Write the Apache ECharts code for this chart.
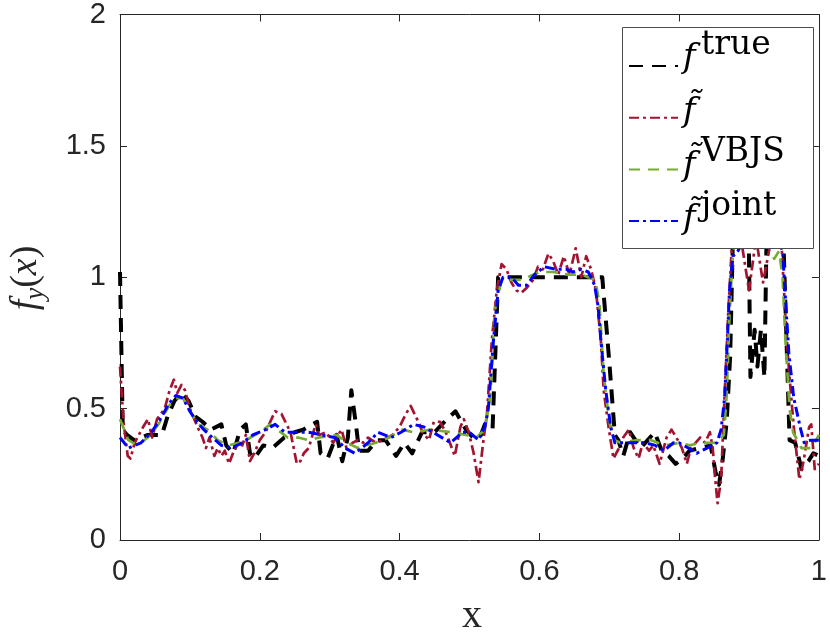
<!DOCTYPE html>
<html>
<head>
<meta charset="utf-8">
<script src="https://cdn.jsdelivr.net/npm/echarts@6/dist/echarts.min.js"></script>
<style>html,body{margin:0;padding:0;background:#fff;}#c{width:830px;height:636px;}</style>
</head>
<body>
<div id="c"></div>
<script>
// ---- data ----
const xTrue = [0,0.004,0.01,0.02,0.03,0.04,0.05,0.06,0.068,0.078,0.088,0.098,0.108,0.118,0.13,0.145,0.152,0.162,0.172,0.18,0.186,0.192,0.205,0.218,0.235,0.25,0.262,0.275,0.282,0.287,0.297,0.31,0.318,0.326,0.331,0.338,0.342,0.355,0.368,0.38,0.395,0.407,0.418,0.432,0.45,0.468,0.48,0.495,0.505,0.515,0.522,0.533,0.541,0.69,0.70,0.708,0.713,0.72,0.73,0.745,0.755,0.765,0.775,0.785,0.795,0.805,0.815,0.83,0.845,0.852,0.857,0.862,0.868,0.873,0.88,0.898,0.902,0.908,0.912,0.917,0.922,0.927,0.945,0.958,0.966,0.975,0.985,0.992,1.0];
const yTrue = [1.02,0.42,0.40,0.38,0.39,0.40,0.40,0.40,0.47,0.53,0.56,0.53,0.47,0.45,0.42,0.44,0.36,0.33,0.42,0.44,0.33,0.31,0.36,0.35,0.39,0.41,0.42,0.44,0.45,0.33,0.31,0.40,0.30,0.39,0.57,0.43,0.34,0.34,0.38,0.38,0.32,0.37,0.33,0.41,0.41,0.46,0.49,0.42,0.39,0.39,0.44,0.42,1.00,1.00,0.68,0.40,0.38,0.32,0.41,0.35,0.38,0.41,0.34,0.32,0.29,0.31,0.34,0.35,0.36,0.26,0.21,0.30,0.45,0.70,1.50,1.50,0.62,0.80,0.66,0.80,0.62,1.50,1.50,0.38,0.37,0.27,0.30,0.33,0.32];

const xTilde = [0,0.005,0.011,0.015,0.021,0.033,0.040,0.046,0.053,0.064,0.071,0.077,0.082,0.088,0.093,0.100,0.111,0.118,0.123,0.128,0.135,0.140,0.145,0.150,0.156,0.163,0.170,0.175,0.180,0.186,0.192,0.200,0.208,0.215,0.222,0.231,0.244,0.253,0.258,0.263,0.270,0.280,0.285,0.295,0.305,0.317,0.324,0.333,0.340,0.348,0.355,0.366,0.376,0.390,0.400,0.409,0.416,0.425,0.433,0.442,0.449,0.458,0.466,0.472,0.479,0.487,0.492,0.499,0.506,0.513,0.520,0.525,0.532,0.539,0.546,0.553,0.560,0.567,0.574,0.582,0.591,0.598,0.605,0.613,0.620,0.627,0.635,0.643,0.652,0.660,0.667,0.674,0.681,0.688,0.692,0.699,0.706,0.714,0.720,0.728,0.735,0.742,0.748,0.757,0.763,0.772,0.782,0.789,0.796,0.804,0.811,0.817,0.830,0.837,0.844,0.848,0.851,0.855,0.860,0.865,0.870,0.875,0.882,0.890,0.900,0.910,0.920,0.930,0.940,0.947,0.952,0.957,0.964,0.972,0.978,0.986,0.989,0.994,1.0];
const yTilde = [0.66,0.45,0.32,0.31,0.37,0.43,0.46,0.39,0.46,0.50,0.57,0.61,0.56,0.59,0.57,0.50,0.43,0.39,0.35,0.39,0.32,0.35,0.32,0.34,0.29,0.34,0.37,0.36,0.40,0.30,0.33,0.38,0.41,0.45,0.49,0.48,0.41,0.29,0.30,0.33,0.35,0.44,0.40,0.41,0.37,0.42,0.35,0.37,0.38,0.37,0.39,0.37,0.38,0.40,0.43,0.48,0.51,0.46,0.41,0.38,0.45,0.45,0.41,0.37,0.32,0.43,0.46,0.41,0.33,0.22,0.38,0.48,0.76,0.95,1.05,1.03,0.98,0.95,0.94,0.96,0.99,1.04,1.03,1.09,1.06,1.01,1.08,1.01,1.11,1.00,1.08,1.03,0.95,0.76,0.57,0.43,0.31,0.35,0.39,0.42,0.35,0.31,0.37,0.34,0.36,0.29,0.39,0.42,0.39,0.35,0.29,0.35,0.39,0.37,0.41,0.35,0.25,0.14,0.23,0.55,0.85,1.10,1.15,1.12,0.95,1.15,0.98,1.12,1.15,1.10,0.85,0.65,0.43,0.23,0.30,0.43,0.44,0.27,0.29];

const xVbjs = [0,0.012,0.025,0.040,0.055,0.070,0.080,0.090,0.100,0.112,0.125,0.140,0.155,0.170,0.180,0.200,0.215,0.240,0.255,0.270,0.285,0.310,0.325,0.340,0.366,0.385,0.404,0.420,0.445,0.475,0.495,0.510,0.522,0.530,0.536,0.546,0.560,0.575,0.600,0.620,0.640,0.660,0.680,0.686,0.692,0.700,0.708,0.716,0.740,0.760,0.780,0.800,0.815,0.830,0.854,0.864,0.868,0.872,0.877,0.885,0.930,0.936,0.943,0.948,0.952,0.958,0.963,0.975,0.990,1.0];
const yVbjs = [0.46,0.38,0.36,0.39,0.44,0.51,0.54,0.54,0.49,0.44,0.42,0.38,0.36,0.37,0.38,0.41,0.44,0.39,0.39,0.38,0.39,0.40,0.37,0.35,0.37,0.39,0.42,0.41,0.42,0.41,0.40,0.39,0.42,0.55,0.87,0.99,0.99,0.99,1.02,1.02,1.01,1.01,0.99,0.90,0.63,0.45,0.38,0.37,0.38,0.38,0.36,0.37,0.36,0.37,0.37,0.40,0.55,0.85,1.10,1.15,1.12,1.07,1.10,1.00,0.76,0.50,0.41,0.35,0.35,0.40];

const xJoint = [0,0.012,0.030,0.045,0.060,0.070,0.080,0.090,0.100,0.110,0.120,0.132,0.145,0.160,0.175,0.190,0.208,0.222,0.236,0.255,0.270,0.288,0.307,0.322,0.336,0.355,0.369,0.388,0.402,0.420,0.435,0.454,0.473,0.490,0.500,0.513,0.522,0.527,0.534,0.541,0.548,0.560,0.570,0.582,0.593,0.607,0.624,0.638,0.648,0.660,0.670,0.679,0.684,0.688,0.695,0.702,0.708,0.723,0.738,0.752,0.766,0.778,0.792,0.800,0.813,0.825,0.840,0.854,0.860,0.865,0.869,0.872,0.877,0.884,0.895,0.910,0.925,0.940,0.948,0.953,0.957,0.964,0.974,0.979,0.988,1.0];
const yJoint = [0.39,0.35,0.37,0.41,0.47,0.52,0.55,0.54,0.49,0.45,0.42,0.39,0.36,0.35,0.37,0.40,0.42,0.44,0.41,0.41,0.41,0.40,0.39,0.35,0.33,0.37,0.41,0.39,0.41,0.44,0.43,0.40,0.37,0.41,0.41,0.38,0.43,0.50,0.75,0.95,1.00,1.00,0.97,0.97,1.01,1.04,1.03,1.03,1.02,1.03,1.02,0.97,0.89,0.76,0.57,0.43,0.37,0.37,0.37,0.37,0.36,0.34,0.37,0.37,0.35,0.33,0.35,0.37,0.42,0.54,0.76,0.95,1.08,1.10,1.15,1.20,1.20,1.15,1.10,0.88,0.71,0.54,0.42,0.37,0.38,0.38];

const xTicks = [0, 0.2, 0.4, 0.6, 0.8, 1];
const yTicks = [0, 0.5, 1, 1.5, 2];
const xTickLabels = ['0', '0.2', '0.4', '0.6', '0.8', '1'];
const yTickLabels = ['0', '0.5', '1', '1.5', '2'];
const seriesNames = ['true', 'tilde', 'vbjs', 'joint'];
const legendBase = ['f', 'f\u0303', 'f\u0303', 'f\u0303'];
const legendSup = ['true', '', 'VBJS', 'joint'];

// ---- chart ----
const zip = (xs, ys) => xs.map((x, i) => [x, ys[i]]);
const axisColor = '#262626';
const chart = echarts.init(document.getElementById('c'), null, {renderer: 'canvas'});

function lbl(list, ticks) {
  return function (v) {
    for (let i = 0; i < ticks.length; i++) if (Math.abs(ticks[i] - v) < 1e-9) return list[i];
    return '';
  };
}

const baseAxisX = {
  type: 'value', min: 0, max: 1, interval: 0.2,
  axisLine: {show: true, onZero: false, lineStyle: {color: axisColor, width: 1}},
  axisTick: {show: true, inside: true, length: 7, lineStyle: {color: axisColor, width: 1}},
  splitLine: {show: false}
};
const baseAxisY = {
  type: 'value', min: 0, max: 2, interval: 0.5,
  axisLine: {show: true, onZero: false, lineStyle: {color: axisColor, width: 1}},
  axisTick: {show: true, inside: true, length: 7, lineStyle: {color: axisColor, width: 1}},
  splitLine: {show: false}
};

const mk = (name, xs, ys, color, width, dash, z) => ({
  name: name, type: 'line', data: zip(xs, ys), showSymbol: false, symbol: 'none',
  clip: true, z: z, animation: false,
  itemStyle: {color: color},
  lineStyle: {color: color, width: width, type: dash, cap: 'butt', join: 'round'}
});

// legend geometry
const LEG_TOP = 52, LEG_STEP = 53.7, LEG_ICON_H = 10;
const rowCenter = i => LEG_TOP + LEG_ICON_H / 2 + i * LEG_STEP;

const legendGraphics = [];
legendBase.forEach((t, i) => {
  legendGraphics.push({type: 'text', x: 683, y: rowCenter(i) + 1.5, z: 20,
    style: {text: t, align: 'left', verticalAlign: 'middle', fontFamily: 'DejaVu Serif', fontStyle: 'italic', fontSize: 34, fill: '#000'}});
  if (legendSup[i]) legendGraphics.push({type: 'text', x: 701, y: rowCenter(i) - 12, z: 20,
    style: {text: legendSup[i], align: 'left', verticalAlign: 'middle', fontFamily: 'DejaVu Serif', fontSize: 33, fill: '#000'}});
});

chart.setOption({
  animation: false,
  backgroundColor: '#fff',
  grid: {left: 120, right: 5, top: 13, bottom: 96, containLabel: false},
  xAxis: [
    Object.assign({}, baseAxisX, {position: 'bottom',
      axisLabel: {show: true, margin: 17, fontSize: 29, color: axisColor, fontFamily: 'Liberation Sans', formatter: lbl(xTickLabels, xTicks)}}),
    Object.assign({}, baseAxisX, {position: 'top', axisLabel: {show: false}})
  ],
  yAxis: [
    Object.assign({}, baseAxisY, {position: 'left',
      axisLabel: {show: true, margin: 14, fontSize: 29, color: axisColor, fontFamily: 'Liberation Sans', formatter: lbl(yTickLabels, yTicks)}}),
    Object.assign({}, baseAxisY, {position: 'right', axisLabel: {show: false}})
  ],
  legend: {
    data: seriesNames,
    orient: 'vertical',
    left: 622, top: LEG_TOP + 10,
    padding: [0, 0, 0, 6],
    itemWidth: 49, itemHeight: LEG_ICON_H, itemGap: LEG_STEP - LEG_ICON_H,
    selectedMode: false,
    itemStyle: {opacity: 0},
    z: 10,
    formatter: function () { return ''; },
    textStyle: {fontSize: 10, lineHeight: 10}
  },
  graphic: [
    {type: 'rect', z: 8, shape: {x: 622.5, y: 27.5, width: 191, height: 221},
      style: {fill: '#fff', stroke: '#4d4d4d', lineWidth: 1}}
  ].concat(legendGraphics).concat([
    {type: 'text', x: 26, y: 278, rotation: Math.PI / 2, z: 20,
      style: {text: '{f|f}{sub|y}{p|(}{x|x}{p|)}', align: 'center', verticalAlign: 'middle',
        rich: {
          f: {fontFamily: 'Liberation Serif', fontStyle: 'italic', fontSize: 38, lineHeight: 46, verticalAlign: 'middle', fill: '#262626'},
          sub: {fontFamily: 'Liberation Serif', fontStyle: 'italic', fontSize: 27, lineHeight: 27, verticalAlign: 'bottom', fill: '#262626'},
          p: {fontFamily: 'Liberation Serif', fontSize: 38, lineHeight: 46, verticalAlign: 'middle', fill: '#262626'},
          x: {fontFamily: 'Liberation Serif', fontStyle: 'italic', fontSize: 38, lineHeight: 46, verticalAlign: 'middle', fill: '#262626'}
        }}},
    {type: 'text', x: 472, y: 616, z: 20,
      style: {text: 'x', align: 'center', verticalAlign: 'middle', fontFamily: 'Liberation Serif', fontSize: 40, fill: '#262626'}}
  ]),
  series: [
    mk('true', xTrue, yTrue, '#000000', 4, [14, 9], 2),
    mk('tilde', xTilde, yTilde, '#A2142F', 2.7, [10, 4, 3, 4], 3),
    mk('vbjs', xVbjs, yVbjs, '#77AC30', 2.7, [11, 8], 4),
    mk('joint', xJoint, yJoint, '#0000FF', 3, [10, 4, 3, 4], 5)
  ]
});
</script>
</body>
</html>
